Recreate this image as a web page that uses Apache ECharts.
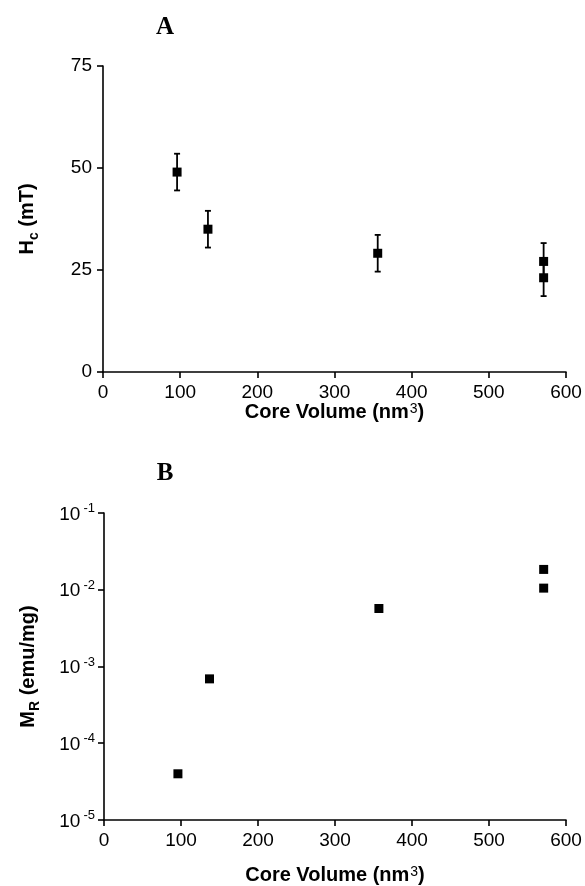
<!DOCTYPE html>
<html><head><meta charset="utf-8">
<script src="https://cdn.jsdelivr.net/npm/echarts@6/dist/echarts.min.js"></script>
<style>html,body{margin:0;padding:0;background:#fff}#c{width:585px;height:886px}</style>
</head><body><div id="c"></div>
<script>
// Panel A: coercivity vs core volume
const volA = [96, 136, 356, 571, 571];
const hcA = [49.0, 35.0, 29.1, 27.1, 23.1];
const hcErr = [4.5, 4.5, 4.5, 4.5, 4.5];
// Panel B: remanent magnetisation vs core volume (log)
const volB = [96, 137, 357, 571, 571];
const mrB = [4.0e-5, 6.9e-4, 5.7e-3, 1.84e-2, 1.05e-2];
const xTicks = [0, 100, 200, 300, 400, 500, 600];
const hcTicks = [0, 25, 50, 75];
const mrTicks = [1e-5, 1e-4, 1e-3, 1e-2, 1e-1];

const FONT = 'Liberation Sans, Arial, sans-serif';
const chart = echarts.init(document.getElementById('c'), null, {renderer: 'canvas'});

const axisLineStyle = {color: '#000', width: 1.6};
function xAxis(gridIndex, gap) {
  return {
    gridIndex, type: 'value', min: xTicks[0], max: xTicks[xTicks.length - 1], interval: 100,
    splitLine: {show: false},
    axisLine: {show: true, onZero: false, lineStyle: axisLineStyle},
    axisTick: {show: true, length: 6, lineStyle: axisLineStyle},
    axisLabel: {color: '#000', fontFamily: FONT, fontSize: 19, margin: 11},
    name: '{b|Core Volume (nm}{s|3}{b|)}',
    nameLocation: 'middle', nameGap: gap, nameMoveOverlap: false,
    nameTextStyle: {
      rich: {
        b: {fontFamily: FONT, fontSize: 20, fontWeight: 'bold', color: '#000', lineHeight: 22, verticalAlign: 'bottom'},
        s: {fontFamily: FONT, fontSize: 14, color: '#000', lineHeight: 22, verticalAlign: 'top', padding: [2, 0, 0, 1]}
      }
    }
  };
}

const option = {
  animation: false,
  backgroundColor: '#fff',
  title: [
    {text: 'A', left: 160, top: 10, textAlign: 'center',
      textStyle: {fontFamily: 'Liberation Serif, Times New Roman, serif', fontSize: 25, fontWeight: 'bold', color: '#000'}},
    {text: 'B', left: 160, top: 456, textAlign: 'center',
      textStyle: {fontFamily: 'Liberation Serif, Times New Roman, serif', fontSize: 25, fontWeight: 'bold', color: '#000'}}
  ],
  grid: [
    {left: 103, top: 66, width: 463, height: 306},
    {left: 104, top: 513, width: 462, height: 307}
  ],
  xAxis: [xAxis(0, 28), xAxis(1, 43)],
  yAxis: [
    {
      gridIndex: 0, type: 'value', min: hcTicks[0], max: hcTicks[hcTicks.length - 1], interval: 25,
      splitLine: {show: false},
      axisLine: {show: true, onZero: false, lineStyle: axisLineStyle},
      axisTick: {show: true, length: 6, lineStyle: axisLineStyle},
      axisLabel: {color: '#000', fontFamily: FONT, fontSize: 19, margin: 11},
      name: '{b|H}{s|c}{b| (mT)}',
      nameLocation: 'middle', nameRotate: 90, nameGap: 62, nameMoveOverlap: false,
      nameTextStyle: {
        rich: {
          b: {fontFamily: FONT, fontSize: 20, fontWeight: 'bold', color: '#000', lineHeight: 24, verticalAlign: 'top'},
          s: {fontFamily: FONT, fontSize: 14, fontWeight: 'bold', color: '#000', lineHeight: 24, verticalAlign: 'bottom'}
        }
      }
    },
    {
      gridIndex: 1, type: 'log', logBase: 10, min: mrTicks[0], max: mrTicks[mrTicks.length - 1],
      splitLine: {show: false}, minorTick: {show: false},
      axisLine: {show: true, onZero: false, lineStyle: axisLineStyle},
      axisTick: {show: true, length: 6, lineStyle: axisLineStyle},
      axisLabel: {
        color: '#000', fontFamily: FONT, fontSize: 19, margin: 9,
        formatter: function (v) {
          const e = Math.round(Math.log10(v));
          return '{m|10}{s|' + e + '}';
        },
        rich: {
          m: {fontFamily: FONT, fontSize: 19, color: '#000', lineHeight: 22, verticalAlign: 'bottom'},
          s: {fontFamily: FONT, fontSize: 13, color: '#000', lineHeight: 22, verticalAlign: 'top', padding: [0, 0, 0, 3]}
        }
      },
      name: '{b|M}{s|R}{b| (emu/mg)}',
      nameLocation: 'middle', nameRotate: 90, nameGap: 62, nameMoveOverlap: false,
      nameTextStyle: {
        rich: {
          b: {fontFamily: FONT, fontSize: 20, fontWeight: 'bold', color: '#000', lineHeight: 24, verticalAlign: 'top'},
          s: {fontFamily: FONT, fontSize: 14, fontWeight: 'bold', color: '#000', lineHeight: 24, verticalAlign: 'bottom'}
        }
      }
    }
  ],
  series: [
    {
      type: 'custom', xAxisIndex: 0, yAxisIndex: 0,
      data: volA.map((v, i) => [v, hcA[i] - hcErr[i], hcA[i] + hcErr[i]]),
      renderItem: function (params, api) {
        const lo = api.coord([api.value(0), api.value(1)]);
        const hi = api.coord([api.value(0), api.value(2)]);
        const w = 3;
        const st = {stroke: '#000', lineWidth: 1.8};
        return {type: 'group', children: [
          {type: 'line', shape: {x1: lo[0], y1: lo[1], x2: hi[0], y2: hi[1]}, style: st},
          {type: 'line', shape: {x1: lo[0] - w, y1: lo[1], x2: lo[0] + w, y2: lo[1]}, style: st},
          {type: 'line', shape: {x1: hi[0] - w, y1: hi[1], x2: hi[0] + w, y2: hi[1]}, style: st}
        ]};
      },
      z: 2
    },
    {
      type: 'scatter', xAxisIndex: 0, yAxisIndex: 0,
      data: volA.map((v, i) => [v, hcA[i]]),
      symbol: 'rect', symbolSize: 9, itemStyle: {color: '#000', opacity: 1}, z: 3
    },
    {
      type: 'scatter', xAxisIndex: 1, yAxisIndex: 1,
      data: volB.map((v, i) => [v, mrB[i]]),
      symbol: 'rect', symbolSize: 9, itemStyle: {color: '#000', opacity: 1}, z: 3
    }
  ]
};
chart.setOption(option);
</script></body></html>
